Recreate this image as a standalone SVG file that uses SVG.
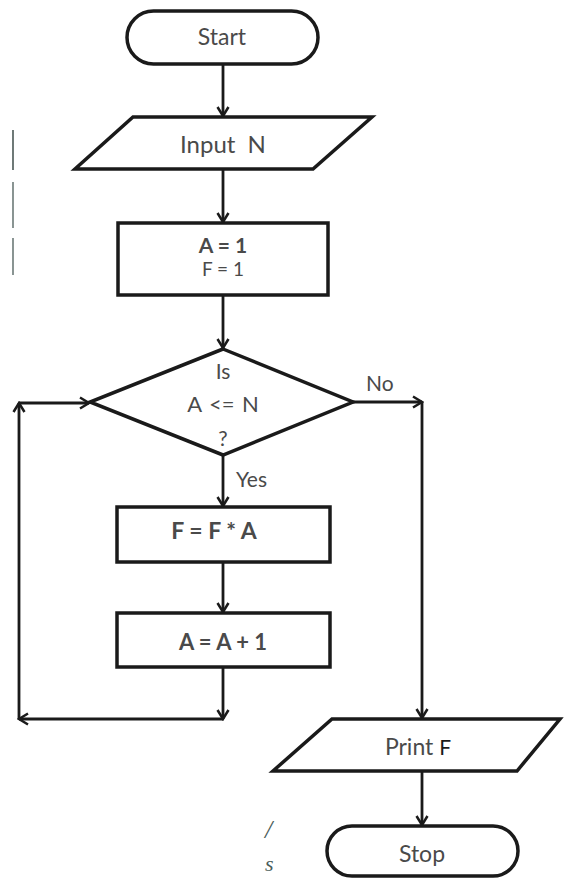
<svg xmlns="http://www.w3.org/2000/svg" width="564" height="880" viewBox="0 0 564 880">
  <defs>
    <marker id="arr" viewBox="-12 -8 14 16" refX="0" refY="0" markerWidth="14" markerHeight="16" markerUnits="userSpaceOnUse" orient="auto">
      <path d="M-9,-5.5 L0,0 L-9,5.5" fill="none" stroke="#1a1a1a" stroke-width="2.5"/>
    </marker>
    <style>
      .shape { fill: #ffffff; stroke: #1a1a1a; stroke-width: 3.5; stroke-linejoin: miter; }
      .conn { fill: none; stroke: #1a1a1a; stroke-width: 2.8; }
      .arrow { marker-end: url(#arr); }
      .t { font-family: Lato, "Liberation Sans", sans-serif; fill: #4a4a4a; text-anchor: middle; }
      .lbl { font-family: Lato, "Liberation Sans", sans-serif; fill: #4a4a4a; font-size: 21px; }
      .art { font-family: "Liberation Serif", serif; font-style: italic; fill: #4a5d5a; }
    </style>
  </defs>
  <rect width="564" height="880" fill="#ffffff"/>

  <!-- stray artifacts -->
  <g id="artifacts">
    <line x1="13" y1="130" x2="13" y2="170" stroke="#5f6b69" stroke-width="1.8"/>
    <line x1="13" y1="182" x2="13" y2="228" stroke="#7d8987" stroke-width="1.8"/>
    <line x1="13" y1="238" x2="13" y2="275" stroke="#7d8987" stroke-width="1.8"/>
    <text class="art" x="265" y="838" font-size="26">/</text>
    <text class="art" x="265" y="871" font-size="22">s</text>
  </g>

  <g id="connectors">
    <path class="conn arrow" d="M223,63 L223,116"/>
    <path class="conn arrow" d="M223,169 L223,222"/>
    <path class="conn arrow" d="M223,295 L223,348"/>
    <path class="conn arrow" d="M223,455 L223,506"/>
    <path class="conn arrow" d="M223,562 L223,612"/>
    <path class="conn arrow" d="M223,667 L223,719"/>
    <path class="conn arrow" d="M223,719 L19,719"/>
    <path class="conn arrow" d="M19,719 L19,403"/>
    <path class="conn arrow" d="M19,403 L89,403"/>
    <path class="conn arrow" d="M353,402 L422,402"/>
    <path class="conn arrow" d="M422,402 L422,718"/>
    <path class="conn arrow" d="M422,771 L422,825"/>
    <text class="lbl" x="236" y="487">Yes</text>
    <text class="lbl" x="366" y="391">No</text>
  </g>

  <g id="start">
    <rect class="shape" x="127" y="11" width="191" height="53" rx="26.5"/>
    <text class="t" x="222" y="45" font-size="23">Start</text>
  </g>

  <g id="input">
    <polygon class="shape" points="133,117 372,117 313,169 75,169"/>
    <text class="t" x="223" y="153" font-size="24" word-spacing="6">Input N</text>
  </g>

  <g id="init">
    <rect class="shape" x="118" y="223" width="210" height="72"/>
    <text class="t" x="223" y="253" font-size="21" font-weight="bold" fill="#3a3a3a">A = 1</text>
    <text class="t" x="223" y="276" font-size="19" fill="#3a3a3a">F = 1</text>
  </g>

  <g id="decision">
    <polygon class="shape" points="223,349 353,402 223,455 90,402"/>
    <text class="t" x="223" y="379" font-size="21">Is</text>
    <text class="t" x="223" y="412" font-size="22" word-spacing="2">A &lt;= N</text>
    <text class="t" x="223" y="446" font-size="21">?</text>
  </g>

  <g id="multiply">
    <rect class="shape" x="117" y="507" width="213" height="55"/>
    <text class="t" x="214" y="539" font-size="23" font-weight="bold" fill="#111111">F = F * A</text>
  </g>

  <g id="increment">
    <rect class="shape" x="117" y="613" width="213" height="54"/>
    <text class="t" x="223" y="650" font-size="22" font-weight="bold" fill="#5a5a5a">A = A + 1</text>
  </g>

  <g id="print">
    <polygon class="shape" points="332,719 560,719 517,771 273,771"/>
    <text class="t" x="418" y="755" font-size="23">Print <tspan fill="#1a1a1a" font-size="21">F</tspan></text>
  </g>

  <g id="stop">
    <rect class="shape" x="327" y="826" width="191" height="50" rx="25"/>
    <text class="t" x="422" y="862" font-size="23">Stop</text>
  </g>
</svg>
